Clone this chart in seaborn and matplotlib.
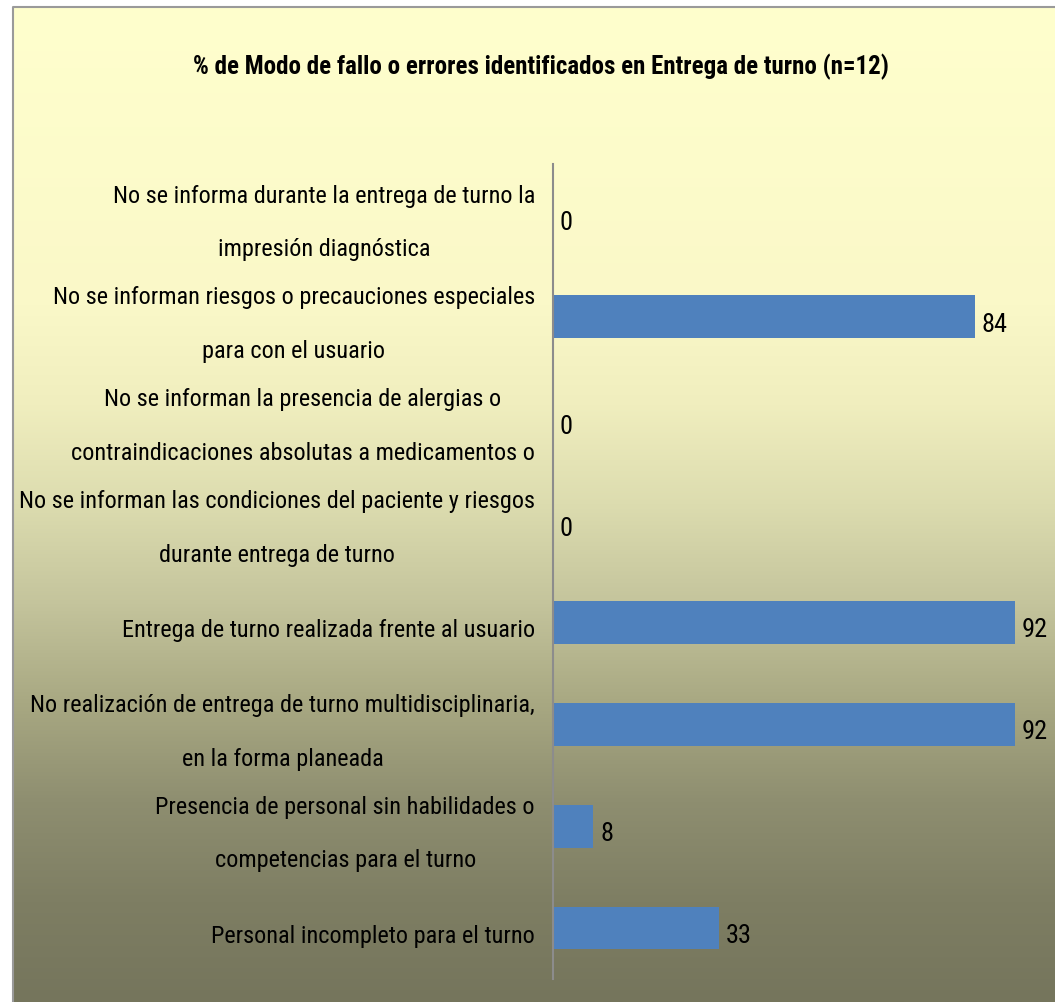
import numpy as np
import pandas as pd
import matplotlib
matplotlib.use("Agg")
import matplotlib.pyplot as plt
import matplotlib.transforms as mtransforms
from matplotlib import font_manager as fm
from matplotlib.lines import Line2D
import seaborn as sns

# ---------------- data ----------------
categories = [
    "No se informa durante la entrega de turno la\nimpresión diagnóstica",
    "No se informan riesgos o precauciones especiales\npara con el usuario",
    "No se informan la presencia de alergias o\ncontraindicaciones absolutas a medicamentos o",
    "No se informan las condiciones del paciente y riesgos\ndurante entrega de turno",
    "Entrega de turno realizada frente al usuario",
    "No realización de entrega de turno multidisciplinaria,\nen la forma planeada",
    "Presencia de personal sin habilidades o\ncompetencias para el turno",
    "Personal incompleto para el turno",
]
values = [0, 84, 0, 0, 92, 92, 8, 33]
title = "% de Modo de fallo o errores identificados en Entrega de turno (n=12)"

# ---------------- fonts ----------------
def pick(names):
    for n in names:
        try:
            fm.findfont(fm.FontProperties(family=n), fallback_to_default=False)
            return n
        except Exception:
            pass
    return None

sns.set_theme(style="white")
narrow = pick(["Roboto Condensed", "Liberation Sans Narrow", "Arial Narrow"])
if narrow is not None:
    fam = [narrow, "DejaVu Sans"]
    lab_fs, val_fs, tit_fs, lsp = 17.5, 19, 18, 2.7
else:
    fam = ["Liberation Sans", "DejaVu Sans"]
    lab_fs, val_fs, tit_fs, lsp = 14.5, 15.5, 14.5, 2.7
plt.rcParams["font.family"] = fam

W, H, DPI = 1055, 1003, 100
fig = plt.figure(figsize=(W / DPI, H / DPI), dpi=DPI)
fig.patch.set_facecolor("white")

# ---------------- background gradient (chart area) ----------------
bx0, by_top = 13 / W, 1 - 8 / H
bg = fig.add_axes([bx0, 0, 1 - bx0, by_top], zorder=0)
ys = np.linspace(0, 1, 400)  # 0 = top
stop_pos = [0.0, 0.30, 0.40, 0.50, 0.60, 0.70, 0.80, 0.90, 1.0]
stop_col = np.array([
    [255, 255, 205], [250, 248, 200], [240, 238, 190], [220, 220, 175],
    [196, 196, 156], [168, 168, 130], [142, 142, 112], [126, 126, 99],
    [117, 117, 92]]) / 255.0
grad = np.stack([np.interp(ys, stop_pos, stop_col[:, k]) for k in range(3)], axis=-1)
bg.imshow(grad[:, None, :], aspect="auto", extent=[0, 1, 0, 1], origin="upper",
          interpolation="bilinear")
bg.set_xlim(0, 1)
bg.set_ylim(0, 1)
bg.axis("off")
bg.add_line(Line2D([0, 0, 1], [0, 1, 1], color="#9a9a9a", lw=1.5,
                   transform=bg.transAxes, clip_on=False))

# ---------------- bar axes ----------------
ax_left = 553 / W
ax_top = 1 - 165 / H
ax_bot = 1 - 980 / H
ax = fig.add_axes([ax_left, ax_bot, 1 - ax_left, ax_top - ax_bot], zorder=1)
ax.patch.set_alpha(0)

df = pd.DataFrame({"cat": categories, "val": values})
sns.barplot(data=df, x="val", y="cat", orient="h", color="#4F81BD",
            saturation=1, width=0.42, linewidth=0, edgecolor="none", ax=ax)

ax.set_xlim(0, 100)
ax.set_ylim(len(categories) - 0.5, -0.5)
ax.set_xlabel("")
ax.set_ylabel("")
ax.set_xticks([])
for s in ["top", "right", "bottom"]:
    ax.spines[s].set_visible(False)
ax.spines["left"].set_color("#8c8c8c")
ax.spines["left"].set_linewidth(1.5)
ax.tick_params(axis="y", length=0, pad=13, labelsize=lab_fs, colors="black")

down = mtransforms.ScaledTranslation(0, -5 / 72, fig.dpi_scale_trans)
for tick in ax.yaxis.get_major_ticks():
    lbl = tick.label1
    lbl.set_multialignment("center")
    lbl.set_linespacing(lsp)
    lbl.set_verticalalignment("center")
    lbl.set_transform(lbl.get_transform() + down)

anns = ax.bar_label(ax.containers[0], labels=[str(v) for v in values], padding=5,
                    fontsize=val_fs, color="black")
for a in anns:
    a.xyann = (a.xyann[0], a.xyann[1] - 5)

fig.text(541 / W, 1 - 67 / H, title, ha="center", va="center",
         fontsize=tit_fs, fontweight="bold", color="black")

fig.savefig("out.png", dpi=DPI)
